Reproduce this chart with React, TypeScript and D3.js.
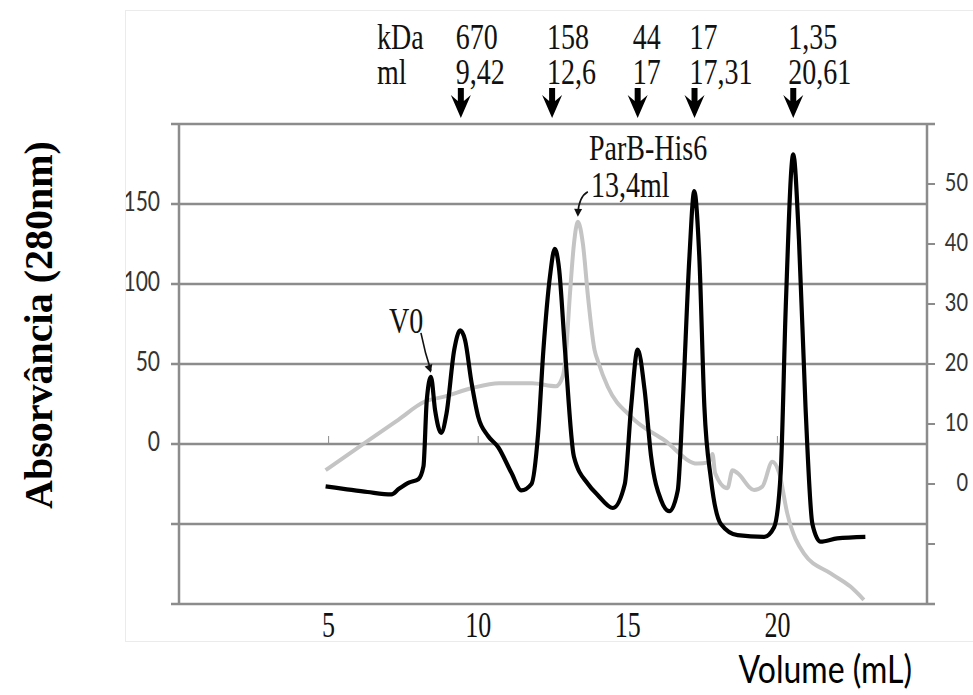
import * as d3 from "d3";
import { useEffect, useRef } from "react";

// black trace: absorbance (left axis)
const absVolume = [
  4.9, 5.5, 6.3, 7.1, 7.35, 7.7, 8.0, 8.17, 8.28, 8.42, 8.56, 8.76, 8.94, 9.2,
  9.4, 9.56, 9.78, 10.0, 10.33, 10.67, 11.11, 11.44, 11.78, 12.0, 12.18, 12.4,
  12.56, 12.7, 12.9, 13.2, 13.67, 14.0, 14.5, 14.9, 15.11, 15.33, 15.56, 15.78,
  16.11, 16.39, 16.67, 16.83, 17.06, 17.22, 17.39, 17.56, 17.78, 18.11, 18.67,
  19.56, 19.89, 20.11, 20.28, 20.53, 20.72, 20.94, 21.17, 21.44, 22.0, 22.94,
];
const absorbance = [
  -26.5, -28, -30, -31.5, -28, -24, -22, -14, 27, 42, 21, 7, 19, 59, 71, 65, 38,
  17, 5, -2, -18, -29, -25, 6, 59, 105, 122, 110, 59, -8, -25, -32, -40, -25,
  23, 59, 34, -8, -35, -42, -29, 23, 117, 158, 117, 23, -22, -50, -57, -58, -52,
  -18, 86, 181, 128, 23, -50, -61, -59, -58,
];

// grey trace (right axis)
const condVolume = [
  4.9, 6.2, 7.33, 8.2, 8.9, 9.8, 10.7, 11.8, 12.6, 12.83, 12.94, 13.06, 13.2,
  13.33, 13.5, 13.67, 13.89, 14.0, 14.33, 15.11, 16.22, 17.33, 17.7, 17.83,
  17.92, 18.33, 18.5, 18.67, 19.22, 19.5, 19.83, 20.06, 20.33, 20.89, 21.78,
  22.44, 22.89,
];
const conductivity = [
  2.3, 6.8, 10.7, 13.7, 14.6, 16, 16.8, 16.8, 16.3, 18, 22.3, 31.2, 40, 43.7,
  40, 31.2, 22.3, 20.5, 16.2, 11.2, 7.3, 3.4, 3.6, 5.0, 1.8, -0.7, 2.3, 1.8, -1,
  -0.4, 3.7, 1.8, -4.9, -11.6, -14.9, -17.1, -19.3,
];

const leftTicks = [-100, -50, 0, 50, 100, 150, 200];
const leftLabels = [0, 50, 100, 150];
const rightTicks = [-20, -10, 0, 10, 20, 30, 40, 50, 60];
const rightLabels = [0, 10, 20, 30, 40, 50];
const xLabels = [5, 10, 15, 20];

const markerVolume = [9.42, 12.47, 15.33, 17.23, 20.53];
const markerKDa = ["670", "158", "44", "17", "1,35"];
const markerMl = ["9,42", "12,6", "17", "17,31", "20,61"];

const SERIF = "'Liberation Serif', 'Times New Roman', serif";
const SANS = "Lato, 'Open Sans', sans-serif";

const App = () => {
  const svgRef = useRef(null);

  useEffect(() => {
    const width = 973;
    const height = 695;
    const svg = d3.select(svgRef.current);
    svg.selectAll("*").remove();

    const left = 179;
    const right = 927;
    const top = 124;
    const bottom = 604;
    const grid = "#8c8c8c";

    const x = d3.scaleLinear().domain([0, 25]).range([left, right]);
    const yL = d3.scaleLinear().domain([-100, 200]).range([bottom, top]);
    const yR = d3.scaleLinear().domain([-20, 60]).range([bottom, top]);

    // stretched text helper (the source picture is squeezed sideways)
    const addText = (g, tx, ty, str, size, sy, opts = {}) =>
      g
        .append("text")
        .attr("transform", `translate(${tx},${ty}) scale(1,${sy})`)
        .attr("font-family", opts.family || SERIF)
        .attr("font-size", size)
        .attr("font-weight", opts.weight || "normal")
        .attr("text-anchor", opts.anchor || "start")
        .attr("fill", opts.fill || "#111")
        .text(str);

    // faint frame of the pasted picture
    const frame = svg.append("g").attr("stroke", "#ebebeb").attr("stroke-width", 1);
    frame.append("line").attr("x1", 125.5).attr("x2", 125.5).attr("y1", 10).attr("y2", 641);
    frame.append("line").attr("x1", 125).attr("x2", width).attr("y1", 10.5).attr("y2", 10.5);
    frame.append("line").attr("x1", 125).attr("x2", width).attr("y1", 641.5).attr("y2", 641.5);

    // gridlines + left ticks
    svg
      .append("g")
      .selectAll("line")
      .data(leftTicks)
      .join("line")
      .attr("x1", left - 8)
      .attr("x2", (d) => (d === -100 || d === 200 ? right + 8 : right))
      .attr("y1", (d) => yL(d))
      .attr("y2", (d) => yL(d))
      .attr("stroke", grid)
      .attr("stroke-width", 2.5);

    // vertical axes
    [left, right].forEach((px) =>
      svg
        .append("line")
        .attr("x1", px)
        .attr("x2", px)
        .attr("y1", top)
        .attr("y2", bottom)
        .attr("stroke", grid)
        .attr("stroke-width", 2.5)
    );

    // right ticks
    svg
      .append("g")
      .selectAll("line")
      .data(rightTicks)
      .join("line")
      .attr("x1", right)
      .attr("x2", right + 8)
      .attr("y1", (d) => yR(d))
      .attr("y2", (d) => yR(d))
      .attr("stroke", grid)
      .attr("stroke-width", 2);

    // small x ticks on the zero line
    svg
      .append("g")
      .selectAll("line")
      .data(xLabels)
      .join("line")
      .attr("x1", (d) => x(d))
      .attr("x2", (d) => x(d))
      .attr("y1", yL(0) - 8)
      .attr("y2", yL(0))
      .attr("stroke", grid)
      .attr("stroke-width", 1);

    // curves
    const condData = condVolume.map((v, i) => [v, conductivity[i]]);
    const absData = absVolume.map((v, i) => [v, absorbance[i]]);

    svg
      .append("path")
      .datum(condData)
      .attr("fill", "none")
      .attr("stroke", "#c4c4c4")
      .attr("stroke-width", 4)
      .attr("stroke-linejoin", "round")
      .attr(
        "d",
        d3
          .line()
          .curve(d3.curveMonotoneX)
          .x((d) => x(d[0]))
          .y((d) => yR(d[1]))
      );

    svg
      .append("path")
      .datum(absData)
      .attr("fill", "none")
      .attr("stroke", "#000")
      .attr("stroke-width", 4.2)
      .attr("stroke-linejoin", "round")
      .attr(
        "d",
        d3
          .line()
          .curve(d3.curveMonotoneX)
          .x((d) => x(d[0]))
          .y((d) => yL(d[1]))
      );

    // left labels, clipped by the picture edge
    svg
      .append("clipPath")
      .attr("id", "leftClip")
      .append("rect")
      .attr("x", 126)
      .attr("y", 0)
      .attr("width", 200)
      .attr("height", height);
    const leftG = svg.append("g").attr("clip-path", "url(#leftClip)");
    leftLabels.forEach((d) =>
      addText(leftG, 160, yL(d) + 7, `${d}`, 21, 1.25, {
        family: SANS,
        anchor: "end",
        fill: "#333",
      })
    );

    // right labels
    rightLabels.forEach((d) =>
      addText(svg, 968, yR(d) + 7, `${d}`, 20, 1.25, {
        family: SANS,
        anchor: "end",
        fill: "#333",
      })
    );

    // x labels
    xLabels.forEach((d) =>
      addText(svg, x(d), 637, `${d}`, 26, 1.35, { anchor: "middle" })
    );

    // markers
    addText(svg, 377, 49, "kDa", 28, 1.25);
    addText(svg, 377, 84, "ml", 28, 1.25);
    const arrow = (cx) =>
      `M${cx - 3},88 L${cx + 3},88 L${cx + 3},101 L${cx + 10},95 L${cx},118 L${cx - 10},95 L${cx - 3},101 Z`;
    markerVolume.forEach((v, i) => {
      const cx = x(v);
      addText(svg, cx - 5, 49, markerKDa[i], 28, 1.25);
      addText(svg, cx - 5, 84, markerMl[i], 28, 1.25);
      svg.append("path").attr("d", arrow(cx)).attr("fill", "#000");
    });

    // annotations
    const head = (tx, ty, ang) => {
      const a = (ang * Math.PI) / 180;
      const l = 8;
      const w = 4;
      const bx = tx - l * Math.cos(a);
      const by = ty - l * Math.sin(a);
      const nx = -Math.sin(a) * w;
      const ny = Math.cos(a) * w;
      return `M${tx},${ty} L${bx + nx},${by + ny} L${bx - nx},${by - ny} Z`;
    };

    // V0
    const v0x = x(8.42);
    const v0y = yL(42) - 4;
    addText(svg, 389, 333, "V0", 28, 1.25);
    svg
      .append("path")
      .attr("d", `M${v0x - 10},${v0y - 40} Q${v0x - 6},${v0y - 20} ${v0x},${v0y - 2}`)
      .attr("fill", "none")
      .attr("stroke", "#111")
      .attr("stroke-width", 1.6);
    svg.append("path").attr("d", head(v0x, v0y, 72)).attr("fill", "#111");

    // ParB
    const px = x(13.33);
    const py = yR(43.7) - 5;
    addText(svg, 589, 160, "ParB-His6", 28, 1.25);
    addText(svg, 591, 197, "13,4ml", 28, 1.25);
    svg
      .append("path")
      .attr("d", `M${px + 10},${py - 25} Q${px + 1},${py - 20} ${px},${py - 3}`)
      .attr("fill", "none")
      .attr("stroke", "#111")
      .attr("stroke-width", 1.6);
    svg.append("path").attr("d", head(px, py, 92)).attr("fill", "#111");

    // axis titles
    svg
      .append("text")
      .attr("transform", "translate(52,325) rotate(-90)")
      .attr("font-family", SERIF)
      .attr("font-weight", "bold")
      .attr("font-size", 40)
      .attr("text-anchor", "middle")
      .attr("fill", "#000")
      .text("Absorvância (280nm)");

    addText(svg, 912, 683, "Volume (mL)", 32, 1.2, {
      family: SANS,
      anchor: "end",
      fill: "#000",
    });
  }, []);

  return (
    <svg
      ref={svgRef}
      width={973}
      height={695}
      style={{ position: "absolute", left: 0, top: 0, background: "#fff" }}
    />
  );
};

export default App;
